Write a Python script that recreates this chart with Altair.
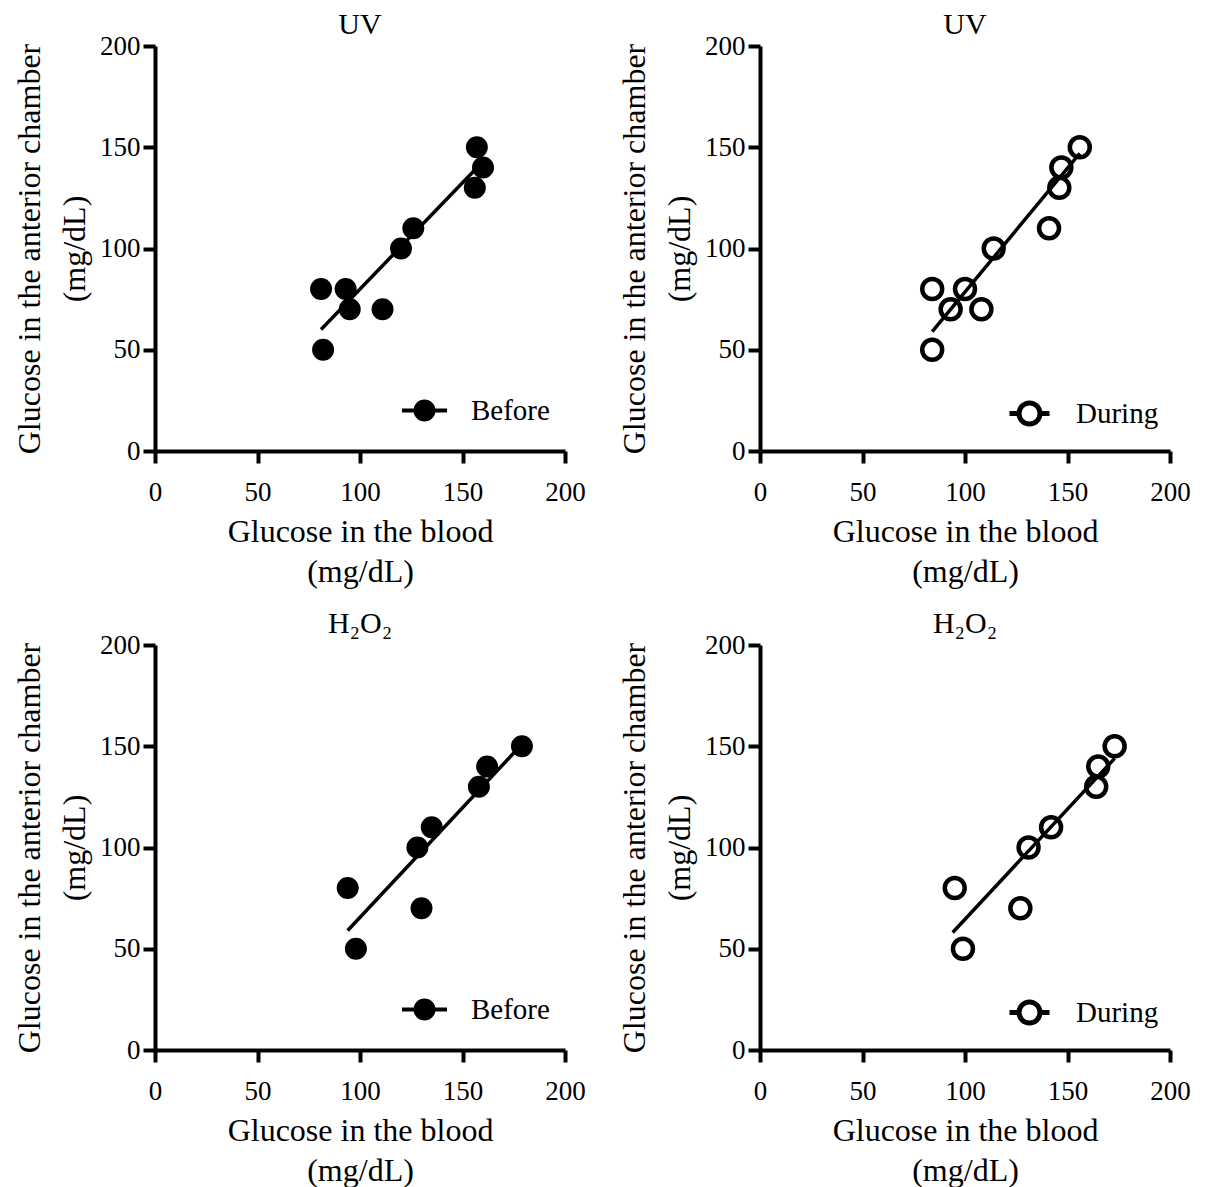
import altair as alt
import pandas as pd

FONT = "Liberation Serif"

# ---- data ----
uv_before_x = [81, 82, 93, 95, 111, 120, 126, 156, 157, 160]
uv_before_y = [80, 50, 80, 70, 70, 100, 110, 130, 150, 140]
uv_before_fit_x = [81, 160]
uv_before_fit_y = [60, 143]

uv_during_x = [84, 84, 93, 100, 108, 114, 141, 146, 147, 156]
uv_during_y = [80, 50, 70, 80, 70, 100, 110, 130, 140, 150]
uv_during_fit_x = [84, 156]
uv_during_fit_y = [59, 147]

h2o2_before_x = [94, 98, 128, 130, 135, 158, 162, 179]
h2o2_before_y = [80, 50, 100, 70, 110, 130, 140, 150]
h2o2_before_fit_x = [94, 179]
h2o2_before_fit_y = [59, 151]

h2o2_during_x = [95, 99, 127, 131, 142, 164, 165, 173]
h2o2_during_y = [80, 50, 70, 100, 110, 130, 140, 150]
h2o2_during_fit_x = [94, 173]
h2o2_during_fit_y = [58, 144]

tick_values = [0, 50, 100, 150, 200]
x_title = ["Glucose in the blood", "(mg/dL)"]
y_title = ["Glucose in the anterior chamber", "(mg/dL)"]

BEFORE_PATH = "M-1.875,0L1.875,0M0.75,0A0.75,0.75,0,1,1,-0.75,0A0.75,0.75,0,1,1,0.75,0Z"
DURING_PATH = ("M-1.667,0L-0.875,0M0.875,0L1.667,0"
               "M0.875,0A0.875,0.875,0,1,1,-0.875,0A0.875,0.875,0,1,1,0.875,0Z")


def panel(xs, ys, fx, fy, title, label, filled):
    pts = pd.DataFrame({"x": xs, "y": ys, "group": [label] * len(xs)})
    fit = pd.DataFrame({"x": fx, "y": fy})
    x = alt.X("x:Q", scale=alt.Scale(domain=[0, 200], nice=False),
              axis=alt.Axis(values=tick_values, title=x_title))
    y = alt.Y("y:Q", scale=alt.Scale(domain=[0, 200], nice=False),
              axis=alt.Axis(values=tick_values, title=y_title))
    line = alt.Chart(fit).mark_line(color="black", strokeWidth=3.5).encode(x=x, y=y)
    legend = alt.Legend(
        title=None, orient="none", legendX=255, legendY=350 if filled else 353,
        symbolType=BEFORE_PATH if filled else DURING_PATH,
        symbolSize=576, symbolStrokeColor="black",
        symbolStrokeWidth=4 if filled else 5,
        labelFont=FONT, labelFontSize=29, labelColor="black",
        labelOffset=32, padding=0,
    )
    color = alt.Color("group:N", scale=alt.Scale(domain=[label], range=["black"]),
                      legend=legend)
    if filled:
        mk = alt.Chart(pts).mark_point(filled=True, shape="circle", size=324,
                                       stroke="black", strokeWidth=4, opacity=1)
    else:
        mk = alt.Chart(pts).mark_point(filled=False, shape="circle", size=398,
                                       strokeWidth=4.5, opacity=1)
    points = mk.encode(x=x, y=y, color=color)
    return alt.layer(line, points).properties(
        width=410, height=405,
        title=alt.Title(title, font=FONT, fontSize=30, fontWeight="normal",
                        color="black", frame="group", offset=-8),
    )


p1 = panel(uv_before_x, uv_before_y, uv_before_fit_x, uv_before_fit_y, "UV", "Before", True)
p2 = panel(uv_during_x, uv_during_y, uv_during_fit_x, uv_during_fit_y, "UV", "During", False)
p3 = panel(h2o2_before_x, h2o2_before_y, h2o2_before_fit_x, h2o2_before_fit_y, "H₂O₂", "Before", True)
p4 = panel(h2o2_during_x, h2o2_during_y, h2o2_during_fit_x, h2o2_during_fit_y, "H₂O₂", "During", False)

row1 = alt.hconcat(p1, p2, spacing=32).resolve_scale(color="independent").resolve_legend(color="independent")
row2 = alt.hconcat(p3, p4, spacing=32).resolve_scale(color="independent").resolve_legend(color="independent")

chart = alt.vconcat(row1, row2, spacing=22).resolve_scale(
    color="independent").resolve_legend(color="independent").configure_axis(
    domainColor="black", domainWidth=4, tickColor="black", tickWidth=4, tickSize=12,
    labelFont=FONT, labelFontSize=27, labelColor="black", labelFlush=False,
    titleFont=FONT, titleFontSize=32, titleFontWeight="normal", titleColor="black",
    grid=False,
).configure_axisX(
    labelPadding=16, titlePadding=11, titleLineHeight=40,
).configure_axisY(
    labelPadding=3, titlePadding=8, titleLineHeight=45,
).configure_view(stroke=None).properties(
    padding={"left": 5, "top": 2, "right": 5, "bottom": 5})

chart.save("out.html", embed_options={"renderer": "svg", "actions": False})
